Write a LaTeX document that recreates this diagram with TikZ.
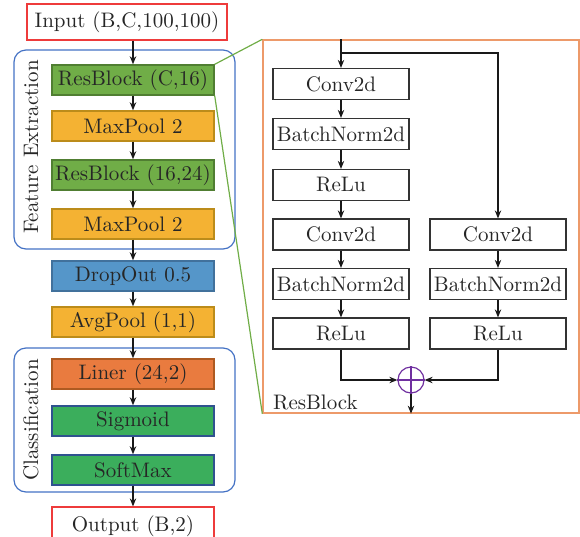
\documentclass[tikz,border=0pt]{standalone}
\usetikzlibrary{arrows.meta}
\definecolor{resg}{HTML}{70AD47}\definecolor{resgb}{HTML}{507E32}
\definecolor{poolc}{HTML}{F4B233}\definecolor{poolb}{HTML}{BC8C1A}
\definecolor{dropc}{HTML}{5596C9}\definecolor{dropb}{HTML}{41719C}
\definecolor{linc}{HTML}{E97B3F}\definecolor{linb}{HTML}{AE5A21}
\definecolor{sigc}{HTML}{3BAE5C}\definecolor{sigb}{HTML}{2F528F}
\definecolor{grpb}{HTML}{4472C4}\definecolor{panb}{HTML}{ED9A6A}
\definecolor{iob}{HTML}{EE3B3B}\definecolor{sumc}{HTML}{7030A0}
\definecolor{txt}{HTML}{262626}
\begin{document}
\begin{tikzpicture}[x=0.5pt,y=-0.5pt,
  font=\fontsize{10.5}{12}\selectfont, text=txt,
  layer/.style={draw=#1, line width=0.7pt, minimum width=81pt, minimum height=15pt, inner sep=0pt},
  iobox/.style={draw=iob, line width=0.6pt, fill=white, minimum height=18pt, inner sep=0pt},
  blk/.style={draw=black!80, line width=0.6pt, minimum width=68pt, minimum height=15.5pt, inner sep=0pt},
  grp/.style={draw=grpb, line width=0.6pt, rounded corners=6pt},
  arr/.style={draw=black!90, line width=0.7pt, -{Stealth[length=4pt,width=3.2pt]}},
  ln/.style={draw=black!90, line width=0.7pt}]
\useasboundingbox (0,0) rectangle (580,537);
% groups
\draw[grp] (14,50) rectangle (235,249);
\draw[grp] (14,348) rectangle (235,492);
\node[rotate=90] (fe) at (31,147) {Feature Extraction};
\node[rotate=90] (cl) at (31,420) {Classification};
% left column
\node[iobox, minimum width=100pt] (in) at (127,22) {Input (B,C,100,100)};
\node[layer=resgb, fill=resg] (res1) at (133,80) {ResBlock (C,16)};
\node[layer=poolb, fill=poolc] (mp1) at (133,126) {MaxPool 2};
\node[layer=resgb, fill=resg] (res2) at (133,175) {ResBlock (16,24)};
\node[layer=poolb, fill=poolc] (mp2) at (133,224) {MaxPool 2};
\node[layer=dropb, fill=dropc] (drop) at (133,276) {DropOut 0.5};
\node[layer=poolb, fill=poolc] (avg) at (133,322) {AvgPool (1,1)};
\node[layer=linb, fill=linc] (lin) at (133,374) {Liner (24,2)};
\node[layer=sigb, fill=sigc] (sig) at (133,421) {Sigmoid};
\node[layer=sigb, fill=sigc] (soft) at (133,470) {SoftMax};
\node[iobox, minimum width=81pt, minimum height=17pt, text depth=0pt] (out) at (133,524) {Output (B,2)};
\draw[arr] (in.south -| res1.north) -- (res1.north);
\draw[arr] (res1) -- (mp1);
\draw[arr] (mp1) -- (res2);
\draw[arr] (res2) -- (mp2);
\draw[arr] (mp2) -- (drop);
\draw[arr] (drop) -- (avg);
\draw[arr] (avg) -- (lin);
\draw[arr] (lin) -- (sig);
\draw[arr] (sig) -- (soft);
\draw[arr] (soft) -- (out);
% right panel
\node[draw=panb, line width=0.7pt, minimum width=158pt, minimum height=186.5pt, inner sep=0pt] (panel) at (421,226.5) {};
\draw[resg, line width=0.6pt] (res1.north east) -- (panel.north west);
\draw[resg, line width=0.6pt] (res1.south east) -- (panel.south west);
\node[blk] (c1) at (341,84) {Conv2d};
\node[blk] (b1) at (341,134) {BatchNorm2d};
\node[blk] (r1) at (341,185) {ReLu};
\node[blk] (c2) at (341,234.5) {Conv2d};
\node[blk] (b2) at (341,284) {BatchNorm2d};
\node[blk] (r2) at (341,333.5) {ReLu};
\node[blk] (c3) at (498,234.5) {Conv2d};
\node[blk] (b3) at (498,284) {BatchNorm2d};
\node[blk] (r3) at (498,333.5) {ReLu};
\node[draw=sumc, line width=0.6pt, circle, minimum size=13pt, inner sep=0pt] (sum) at (411,380) {};
\draw[sumc, line width=0.6pt] (sum.north) -- (sum.south) (sum.west) -- (sum.east);
\coordinate (br) at (341,53);
\draw[arr] (c1.north |- panel.north) -- (c1.north);
\draw[arr] (br) -| (c3.north);
\draw[arr] (c1) -- (b1);
\draw[arr] (b1) -- (r1);
\draw[arr] (r1) -- (c2);
\draw[arr] (c2) -- (b2);
\draw[arr] (b2) -- (r2);
\draw[arr] (c3) -- (b3);
\draw[arr] (b3) -- (r3);
\draw[arr] (r2.south) |- (sum.west);
\draw[arr] (r3.south) |- (sum.east);
\draw[arr] (sum.south) -- (sum.south |- panel.south);
\node[anchor=west] (rbl) at (266,402) {ResBlock};
\end{tikzpicture}
\end{document}
